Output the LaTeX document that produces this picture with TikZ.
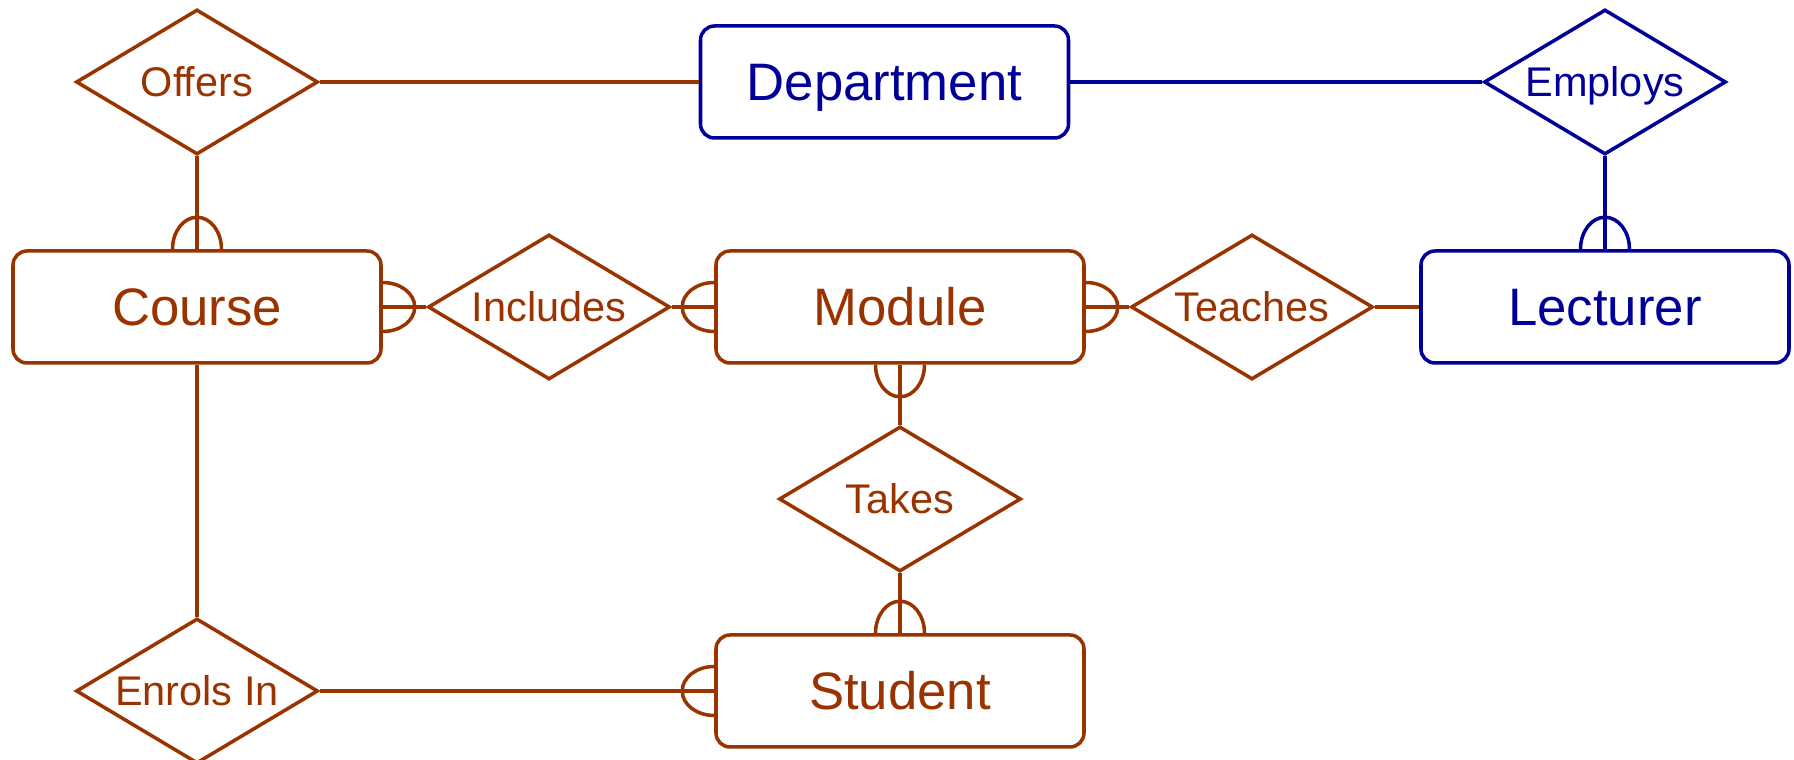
\documentclass[tikz,border=0pt]{standalone}
\usepackage{fontspec}
\setmainfont{Liberation Sans}
\usetikzlibrary{shapes.geometric}
\definecolor{erbrown}{RGB}{153,51,0}
\definecolor{erblue}{RGB}{0,0,153}

\begin{document}
\begin{tikzpicture}[line width=1pt,
  entity/.style={draw, rectangle, rounded corners=1.4mm, minimum width=3.68cm,
    minimum height=1.12cm, font=\fontsize{15}{18}\selectfont, text height=10.8pt, text depth=0pt},
  relation/.style={draw, diamond, shape aspect=1.67, inner sep=0pt, minimum width=2.42cm,
    minimum height=1.45cm, font=\fontsize{11.8}{14}\selectfont, text height=8.5pt, text depth=0pt},
  many/.pic={\draw (0,-2.45mm) arc[start angle=-90, end angle=90, x radius=3.2mm, y radius=2.45mm];}]
  \useasboundingbox (0,0) rectangle (17.94,-7.60);
  % entities
  \node[entity, erblue] (dept) at (8.845,-0.82) {Department};
  \node[entity, erbrown] (course) at (1.97,-3.07) {Course};
  \node[entity, erbrown] (module) at (9.00,-3.07) {Module};
  \node[entity, erblue] (lecturer) at (16.05,-3.07) {Lecturer};
  \node[entity, erbrown] (student) at (9.00,-6.91) {Student};
  % relationships
  \node[relation, erbrown] (offers) at (1.97,-0.82) {Offers};
  \node[relation, erblue] (employs) at (16.05,-0.82) {Employs};
  \node[relation, erbrown] (includes) at (5.49,-3.07) {Includes};
  \node[relation, erbrown] (teaches) at (12.52,-3.07) {Teaches};
  \node[relation, erbrown] (takes) at (9.00,-4.99) {Takes};
  \node[relation, erbrown] (enrols) at (1.97,-6.91) {Enrols In};
  % links
  \draw[erbrown] (offers) -- (dept);
  \draw[erblue] (dept) -- (employs);
  \draw[erbrown] (offers) -- (course);
  \draw[erblue] (employs) -- (lecturer);
  \draw[erbrown] (course) -- (includes);
  \draw[erbrown] (includes) -- (module);
  \draw[erbrown] (module) -- (teaches);
  \draw[erbrown] (teaches) -- (lecturer);
  \draw[erbrown] (module) -- (takes);
  \draw[erbrown] (takes) -- (student);
  \draw[erbrown] (course) -- (enrols);
  \draw[erbrown] (enrols) -- (student);
  % many ends
  \pic[rotate=90, color=erbrown] at (course.north) {many};
  \pic[rotate=90, color=erblue] at (lecturer.north) {many};
  \pic[color=erbrown] at (course.east) {many};
  \pic[rotate=180, color=erbrown] at (module.west) {many};
  \pic[color=erbrown] at (module.east) {many};
  \pic[rotate=-90, color=erbrown] at (module.south) {many};
  \pic[rotate=90, color=erbrown] at (student.north) {many};
  \pic[rotate=180, color=erbrown] at (student.west) {many};
\end{tikzpicture}
\end{document}
